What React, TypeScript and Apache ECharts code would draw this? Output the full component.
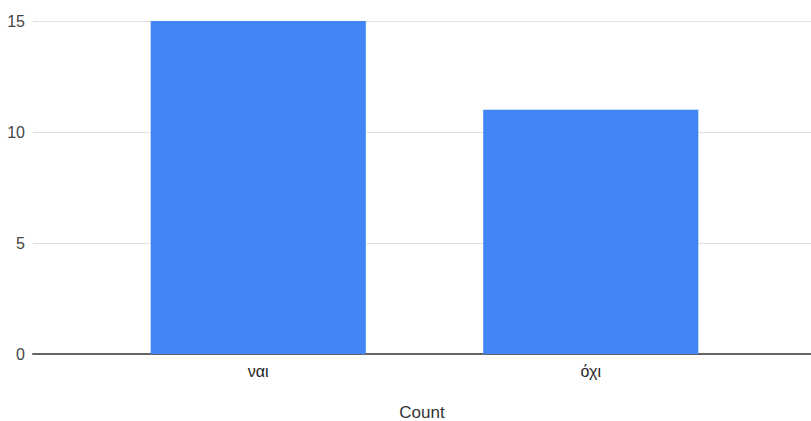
import React, { useEffect, useRef } from "react";
import * as echarts from "echarts";

const categories = ["ναι", "όχι"];
const counts = [15, 11];
const yTicks = [0, 5, 10, 15];
const xTitle = "Count";

export default function App() {
  const ref = useRef<HTMLDivElement>(null);
  useEffect(() => {
    if (!ref.current) return;
    const chart = echarts.init(ref.current, undefined, { renderer: "svg" });
    const font = "Liberation Sans, Arial, sans-serif";
    chart.setOption({
      animation: false,
      textStyle: { fontFamily: font },
      grid: [
        { left: 33, right: 0, top: 21, bottom: 67, outerBoundsMode: "none", containLabel: false },
        { left: 92, width: 665, top: 21, bottom: 67, outerBoundsMode: "none", containLabel: false },
      ],
      xAxis: [
        {
          gridIndex: 0,
          type: "category",
          data: [""],
          axisLine: { show: true, lineStyle: { color: "#666", width: 2 } },
          axisTick: { show: false },
          axisLabel: { show: false },
          name: xTitle,
          nameLocation: "middle",
          nameGap: 50,
          nameTextStyle: { color: "#333", fontSize: 17, fontFamily: font },
        },
        {
          gridIndex: 1,
          type: "category",
          data: categories,
          axisLine: { show: false },
          axisTick: { show: false },
          axisLabel: { color: "#222", fontSize: 16, margin: 9, fontFamily: font },
        },
      ],
      yAxis: [
        {
          gridIndex: 0,
          type: "value",
          min: yTicks[0],
          max: yTicks[yTicks.length - 1],
          interval: yTicks[1] - yTicks[0],
          axisLine: { show: false },
          axisTick: { show: false },
          axisLabel: { color: "#444", fontSize: 16, margin: 8, fontFamily: font },
          splitLine: { show: true, lineStyle: { color: "#e0e0e0", width: 1 } },
        },
        {
          gridIndex: 1,
          type: "value",
          min: yTicks[0],
          max: yTicks[yTicks.length - 1],
          interval: yTicks[1] - yTicks[0],
          show: false,
          splitLine: { show: false },
        },
      ],
      series: [
        {
          type: "bar",
          xAxisIndex: 1,
          yAxisIndex: 1,
          data: counts,
          barCategoryGap: "35.3%",
          itemStyle: { color: "#4285f4" },
          z: 1,
        },
      ],
    });
    return () => chart.dispose();
  }, []);
  return (
    <div
      ref={ref}
      style={{ position: "fixed", left: 0, top: 0, width: 811, height: 421, background: "#fff" }}
    />
  );
}
